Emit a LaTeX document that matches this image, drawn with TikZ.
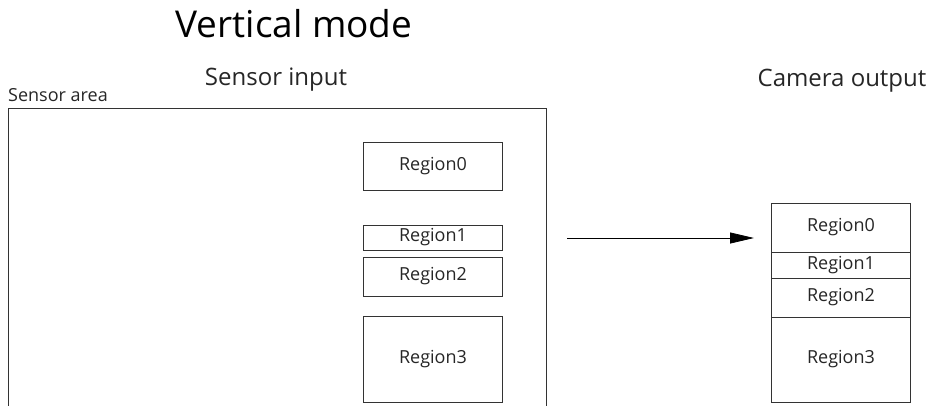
\documentclass[tikz,border=0pt]{standalone}
\usepackage{fontspec}
\setmainfont{Open Sans}
\usetikzlibrary{arrows.meta,positioning}

\begin{document}
\begin{tikzpicture}[x=1pt,y=-1pt,node distance=0pt,>={Triangle[length=24pt,width=11pt]}]
  \tikzstyle{region}=[rectangle,draw=black!80,line width=0.8pt,outer sep=0pt,inner sep=0pt,minimum width=139pt,font=\fontsize{18}{18}\selectfont,text=black!85]
  \tikzstyle{heading}=[inner sep=0pt,font=\fontsize{24}{24}\selectfont,text=black!85]
  \tikzstyle{every label}=[black]

  \useasboundingbox (0,0) rectangle (928,405);

  \begin{scope}
    % Titles
    \node [inner sep=0pt,font=\fontsize{37}{37}\selectfont,anchor=base] (title) at (294,37) {Vertical mode};
    \node [heading,anchor=base] (insensor) at (276,85) {Sensor input};
    \node [heading,anchor=base] (outcam) at (842,86) {Camera output};
    \node [inner sep=0pt,anchor=base west,font=\fontsize{18}{18}\selectfont,text=black!85] (areatext) at (8,101) {Sensor area};
  \end{scope}

  % Sensor area, cut at the bottom
  \draw [black!80,line width=0.8pt] (8,410) |- (546,108) -- (546,410);

  \begin{scope}
    % Sensor regions
    \node [region,minimum height=48pt] (inR0) at (433,166) {Region0};
    \node [region,minimum height=25pt] (inR1) [below = 35pt of inR0] {Region1};
    \node [region,minimum height=39pt] (inR2) [below = 7pt of inR1] {Region2};
    \node [region,minimum height=86pt] (inR3) [below = 20pt of inR2] {Region3};
  \end{scope}

  \begin{scope}
    % Camera output stack
    \node [region,minimum height=49pt] (outR0) at (841,227.5) {Region0};
    \node [region,minimum height=26pt] (outR1) [below = of outR0] {Region1};
    \node [region,minimum height=39pt] (outR2) [below = of outR1] {Region2};
    \node [region,minimum height=85pt] (outR3) [below = of outR2] {Region3};
  \end{scope}

  \coordinate (arrowfrom) at (567,238);
  \coordinate (arrowto) at (754,238);
  \draw [->,line width=0.8pt] (arrowfrom) -- (arrowto);
\end{tikzpicture}
\end{document}
